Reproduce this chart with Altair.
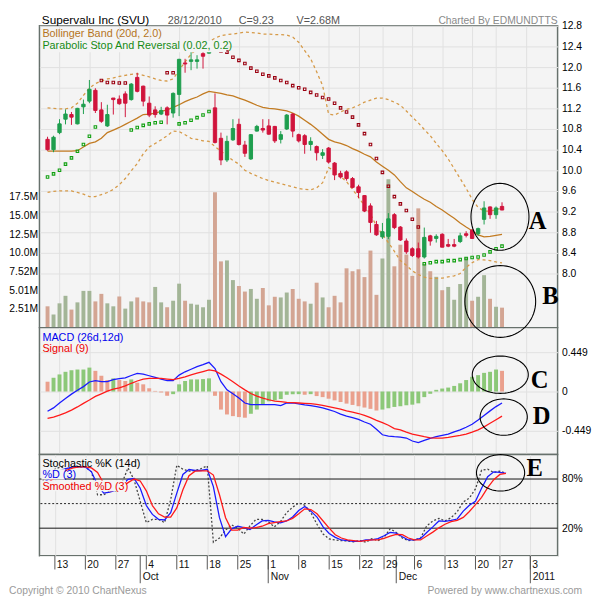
import math
import altair as alt
import pandas as pd

FONT = "Liberation Sans"
BG = "#f4f4f4"
GRID = "#e0e0e0"
BORDER = "#67716c"

# ---------------- data ----------------
open_ = [10.60, 10.40, 10.73, 10.99, 11.08, 10.90, 11.23, 11.34, 11.55, 11.17,
         10.86, 11.40, 11.38, 11.48, 11.37, 11.80, 11.63, 11.30, 11.17, 11.09,
         11.21, 11.11, 11.47, 12.08, 12.11, 12.11, 12.26, 12.27, 11.21, 10.62,
         10.20, 10.59, 10.89, 10.49, 10.22, 10.76, 10.81, 10.86, 10.85, 10.60,
         10.80, 11.09, 10.69, 10.67, 10.50, 10.46, 10.29, 10.43, 10.14, 9.94,
         9.97, 9.84, 9.68, 9.51, 9.31, 8.95, 8.71, 8.72, 9.14, 8.90,
         8.63, 8.48, 8.48, 8.32, 8.73, 8.68, 8.76, 8.56, 8.56, 8.62,
         8.77, 8.84, 8.77, 9.05, 9.29, 9.14, 9.30]
high_ = [10.65, 10.67, 10.99, 11.18, 11.13, 11.21, 11.37, 11.75, 11.59, 11.32,
         11.27, 11.40, 11.45, 11.53, 11.69, 11.89, 11.64, 11.43, 11.24, 11.23,
         11.24, 11.51, 12.16, 12.16, 12.30, 12.23, 12.29, 12.32, 11.49, 10.73,
         10.67, 10.99, 11.00, 10.57, 10.70, 10.88, 10.99, 10.99, 10.86, 10.76,
         11.09, 11.11, 10.71, 10.70, 10.64, 10.48, 10.41, 10.45, 10.16, 9.99,
         10.00, 9.87, 9.72, 9.52, 9.36, 9.02, 8.98, 9.17, 9.17, 8.92,
         8.68, 8.51, 8.60, 8.89, 8.75, 8.76, 8.78, 8.67, 8.67, 8.79,
         8.82, 8.86, 8.89, 9.40, 9.30, 9.30, 9.38]
low_ = [10.38, 10.35, 10.70, 10.89, 10.88, 10.89, 11.09, 11.30, 11.11, 10.92,
        10.84, 11.08, 11.27, 11.03, 11.35, 11.51, 11.24, 11.03, 11.02, 11.07,
        10.89, 11.02, 11.05, 11.89, 11.94, 11.97, 11.97, 12.26, 10.52, 10.10,
        10.16, 10.57, 10.48, 10.26, 10.20, 10.75, 10.73, 10.69, 10.53, 10.52,
        10.78, 10.64, 10.54, 10.32, 10.38, 10.19, 10.22, 10.13, 9.81, 9.84,
        9.80, 9.65, 9.46, 9.19, 8.79, 8.73, 8.67, 8.67, 8.86, 8.63,
        8.38, 8.32, 8.29, 8.29, 8.54, 8.60, 8.51, 8.51, 8.51, 8.59,
        8.70, 8.67, 8.73, 8.95, 9.06, 9.06, 9.23]
close_ = [10.40, 10.64, 10.90, 11.09, 11.03, 11.20, 11.28, 11.57, 11.16, 10.95,
          11.08, 11.37, 11.29, 11.30, 11.67, 11.53, 11.34, 11.07, 11.08, 11.16,
          11.07, 11.49, 12.15, 12.06, 12.14, 12.14, 12.21, 12.31, 10.54, 10.20,
          10.56, 10.81, 10.50, 10.33, 10.69, 10.85, 10.78, 10.70, 10.57, 10.69,
          11.07, 10.76, 10.57, 10.50, 10.56, 10.34, 10.34, 10.16, 9.91, 9.87,
          9.84, 9.67, 9.57, 9.21, 8.99, 8.75, 8.81, 9.06, 8.89, 8.65,
          8.42, 8.35, 8.32, 8.70, 8.63, 8.72, 8.51, 8.53, 8.53, 8.73,
          8.74, 8.68, 8.87, 9.27, 9.14, 9.27, 9.23]
volume_m = [2.86, 1.76, 3.26, 4.27, 2.42, 3.39, 4.93, 4.93, 3.52, 4.53,
            3.26, 2.86, 4.18, 2.55, 3.52, 4.05, 3.52, 3.39, 5.46, 3.39,
            2.73, 3.61, 5.90, 3.61, 3.21, 3.08, 2.73, 3.74, 18.17, 8.89,
            9.02, 6.38, 5.59, 4.84, 5.19, 3.87, 5.32, 2.99, 4.14, 4.05,
            4.71, 5.19, 3.87, 3.52, 3.21, 6.03, 4.05, 2.73, 4.27, 3.39,
            7.96, 7.57, 7.83, 6.78, 10.34, 4.40, 9.28, 19.93, 8.23, 11.13,
            9.81, 6.95, 16.01, 8.58, 7.57, 6.82, 5.02, 5.46, 3.74, 5.85,
            9.46, 3.61, 4.14, 7.04, 3.87, 2.80, 2.68]
sar = [9.87, 9.93, 10.00, 10.12, 10.24, 10.37, 10.50, 10.66, 10.84,
       11.74, 11.70, 11.70, 11.69, 11.69,
       10.78, 10.83, 10.87, 10.90, 10.92, 10.93,
       11.89, 11.89,
       10.90, 10.92, 10.97, 11.02, 11.07, 11.14,
       12.34, 12.31, 12.29, 12.19, 12.13, 12.07, 11.98, 11.92, 11.86, 11.83,
       11.79, 11.74, 11.70, 11.64, 11.60,
       11.57, 11.51, 11.46, 11.41, 11.38, 11.30, 11.21, 11.13, 11.03, 10.88,
       10.71, 10.50, 10.23, 9.96, 9.69, 9.49, 9.35, 9.22, 9.05, 8.90,
       8.19, 8.21, 8.23, 8.23, 8.25, 8.25, 8.27, 8.29, 8.31, 8.32, 8.36,
       8.42, 8.48, 8.53]
bb_upper = [11.21, 11.20, 11.19, 11.19, 11.21, 11.30, 11.45, 11.59, 11.68, 11.73,
            11.77, 11.79, 11.82, 11.84, 11.86, 11.87, 11.84, 11.81, 11.77, 11.74,
            11.73, 11.77, 11.94, 12.10, 12.25, 12.35, 12.43, 12.49, 12.56, 12.61,
            12.63, 12.64, 12.66, 12.68, 12.67, 12.66, 12.64, 12.64, 12.63, 12.63,
            12.62, 12.58, 12.48, 12.32, 12.16, 11.91, 11.64, 11.09, 11.07, 11.13,
            11.18, 11.21, 11.26, 11.32, 11.36, 11.40, 11.40, 11.37, 11.32, 11.26,
            11.15, 11.03, 10.92, 10.79, 10.67, 10.52, 10.38, 10.22, 10.03, 9.84,
            9.65, 9.44, 9.28, 9.21, 9.21, 9.24, 9.27]
bb_middle = [10.37, 10.37, 10.37, 10.37, 10.37, 10.38, 10.45, 10.52, 10.55, 10.62,
             10.73, 10.78, 10.83, 10.89, 10.95, 11.01, 11.08, 11.09, 11.11, 11.14,
             11.17, 11.22, 11.27, 11.33, 11.38, 11.42, 11.48, 11.53, 11.51, 11.49,
             11.46, 11.44, 11.40, 11.36, 11.31, 11.26, 11.22, 11.20, 11.19, 11.17,
             11.15, 11.11, 11.05, 10.97, 10.89, 10.80, 10.70, 10.60, 10.55, 10.52,
             10.48, 10.42, 10.37, 10.31, 10.26, 10.16, 10.08, 10.00, 9.91, 9.78,
             9.66, 9.59, 9.51, 9.44, 9.38, 9.30, 9.23, 9.15, 9.07, 8.98,
             8.90, 8.83, 8.75, 8.71, 8.72, 8.74, 8.76]
bb_lower = [9.57, 9.59, 9.60, 9.60, 9.60, 9.57, 9.54, 9.49, 9.49, 9.53,
            9.57, 9.63, 9.72, 9.84, 9.99, 10.13, 10.32, 10.45, 10.52, 10.59,
            10.67, 10.76, 10.75, 10.69, 10.62, 10.60, 10.57, 10.56, 10.46, 10.37,
            10.28, 10.19, 10.12, 10.00, 9.94, 9.89, 9.84, 9.80, 9.77, 9.74,
            9.71, 9.68, 9.65, 9.63, 9.62, 9.66, 9.76, 10.05, 10.00, 9.88,
            9.78, 9.63, 9.48, 9.31, 9.15, 8.92, 8.75, 8.60, 8.43, 8.25,
            8.16, 8.05, 7.98, 7.93, 7.905, 7.905, 7.91, 7.935, 7.955, 8.00,
            8.12, 8.21, 8.27, 8.265, 8.25, 8.225, 8.205]
macd = [-0.225, -0.187, -0.131, -0.079, -0.030, 0.015, 0.056, 0.109, 0.124, 0.112,
        0.112, 0.135, 0.146, 0.157, 0.183, 0.206, 0.198, 0.180, 0.161, 0.142,
        0.124, 0.124, 0.187, 0.225, 0.254, 0.284, 0.307, 0.333, 0.262, 0.112,
        0.019, -0.026, -0.075, -0.131, -0.150, -0.150, -0.150, -0.150, -0.150, -0.161,
        -0.131, -0.131, -0.142, -0.153, -0.161, -0.172, -0.187, -0.206, -0.228, -0.258,
        -0.281, -0.299, -0.318, -0.348, -0.374, -0.430, -0.494, -0.509, -0.516, -0.520,
        -0.531, -0.565, -0.584, -0.558, -0.535, -0.516, -0.501, -0.486, -0.460, -0.438,
        -0.408, -0.374, -0.326, -0.273, -0.221, -0.172, -0.131]
signal = [-0.307, -0.292, -0.269, -0.243, -0.213, -0.176, -0.135, -0.097, -0.056, -0.026,
          0.004, 0.026, 0.041, 0.064, 0.094, 0.120, 0.142, 0.150, 0.150, 0.150,
          0.142, 0.135, 0.150, 0.168, 0.191, 0.210, 0.228, 0.247, 0.236, 0.198,
          0.157, 0.112, 0.064, 0.019, -0.023, -0.052, -0.075, -0.094, -0.109, -0.116,
          -0.124, -0.127, -0.131, -0.135, -0.138, -0.146, -0.157, -0.172, -0.187, -0.202,
          -0.221, -0.236, -0.251, -0.273, -0.299, -0.329, -0.356, -0.385, -0.423, -0.438,
          -0.464, -0.486, -0.501, -0.516, -0.528, -0.531, -0.531, -0.524, -0.513, -0.501,
          -0.486, -0.464, -0.438, -0.404, -0.363, -0.322, -0.281]
hist = [0.112, 0.157, 0.195, 0.225, 0.243, 0.251, 0.251, 0.273, 0.236, 0.180,
        0.131, 0.150, 0.131, 0.120, 0.138, 0.101, 0.082, 0.037, 0.007, -0.011,
        -0.049, -0.030, 0.082, 0.120, 0.138, 0.138, 0.142, 0.150, -0.049, -0.206,
        -0.262, -0.281, -0.292, -0.299, -0.254, -0.206, -0.150, -0.112, -0.101, -0.086,
        -0.037, -0.030, -0.030, -0.037, -0.030, -0.052, -0.064, -0.082, -0.101, -0.120,
        -0.138, -0.153, -0.168, -0.183, -0.198, -0.217, -0.206, -0.191, -0.176, -0.168,
        -0.157, -0.150, -0.135, -0.064, -0.026, 0.019, 0.034, 0.045, 0.064, 0.094,
        0.131, 0.168, 0.187, 0.213, 0.225, 0.251, 0.236]
stoch_k = [78, 85, 92, 95, 92, 94.8, 94.8, 94.8, 88.8, 60.8,
           60.8, 64.8, 65.6, 74.8, 93.6, 78.8, 52.8, 26.8, 30.8, 30.8,
           26.8, 54.8, 96.8, 92, 89.6, 90.4, 92.8, 96, 2.8, 8,
           17.6, 24, 20, 12.8, 22.8, 30.8, 30.8, 28, 21.6, 28,
           38.8, 45.6, 50.8, 48, 38.8, 24.8, 12.8, 6.8, 5.6, 4.8,
           4.4, 3.2, 4.8, 2.8, 7.2, 4.8, 8.8, 19.2, 14.8, 8,
           4.8, 5.6, 8, 22.8, 28.8, 32, 28.8, 32.8, 40, 52,
           56.8, 68, 90.8, 92, 88, 89.6, 87.2]
stoch_d = [74.8, 80, 86, 91, 93, 94.8, 94.8, 94.8, 88.8, 72.8,
           62.8, 64, 66.4, 72.8, 79.6, 80.8, 68.8, 47.6, 36.8, 30.8,
           30, 38.8, 62.8, 85.6, 91.6, 90.4, 90.4, 92, 70.8, 32.8,
           9.6, 19.2, 22.4, 20.8, 18.4, 24, 28.8, 29.6, 27.6, 26.4,
           28.8, 33.6, 41.6, 46.4, 40.8, 33.6, 21.6, 13.6, 8.8, 5.6,
           4.8, 4, 4, 5.6, 5.6, 7.2, 10.8, 14.8, 14, 9.6,
           5.6, 5.6, 7.6, 14.8, 21.6, 28.8, 28.4, 29.6, 31.2, 40.8,
           48, 52.8, 68.8, 82.8, 88.8, 88, 86.8]
stoch_sd = [70.8, 76, 82, 87, 91, 93.6, 94.8, 94.8, 93.6, 88,
            74.8, 65.6, 66.4, 70.4, 75.6, 80, 77.6, 65.6, 47.6, 37.6,
            33.6, 33.6, 44.8, 66.8, 84, 89.6, 90, 90, 84.8, 60.8,
            32.8, 17.6, 17.6, 20.8, 20, 20.8, 22.4, 25.6, 26.8, 28,
            28.8, 32, 37.6, 43.6, 42.8, 37.6, 28.8, 20, 12, 8,
            5.6, 4.8, 4, 4.8, 5.6, 5.6, 7.6, 10.4, 12.4, 12,
            8, 5.6, 5.6, 10.4, 15.2, 20.4, 24.8, 28, 29.6, 33.2,
            40.4, 48.8, 57.6, 69.6, 79.2, 85.6, 86.8]

week_pos = [2, 7, 12, 17, 22, 27, 32, 37, 42, 47, 52, 56, 61, 66, 71, 75, 80]
week_lbl = ["13", "20", "27", "4", "11", "18", "25", "1", "8", "15", "22", "29",
            "6", "13", "20", "27", "3"]
month_pos = [16, 37, 58, 80]
month_lbl = ["Oct", "Nov", "Dec", "2011"]
price_ticks = [8.0, 8.4, 8.8, 9.2, 9.6, 10.0, 10.4, 10.8, 11.2, 11.6, 12.0, 12.4, 12.8]
vol_ticks = [2.5075 * k for k in range(1, 8)]
vol_tick_lbl = ["2.51M", "5.01M", "7.52M", "10.0M", "12.5M", "15.0M", "17.5M"]
macd_ticks = [-0.449, 0.0, 0.449]
stoch_ticks = [20, 80]

# ---------------- table ----------------
n = len(close_)
cdir = ["c_up" if c >= o else "c_dn" for o, c in zip(open_, close_)]
vdir = ["v_dn"] + ["v_up" if close_[k] >= close_[k - 1] else "v_dn" for k in range(1, n)]
hdir = ["h_dn"] + ["h_up" if hist[k] >= hist[k - 1] else "h_dn" for k in range(1, n)]
sdir = ["s_up" if s < c else "s_dn" for s, c in zip(sar, close_)]
df = pd.DataFrame(dict(i=list(range(n)), open=open_, high=high_, low=low_, close=close_,
                       vol=volume_m, sar=sar, bbu=bb_upper, bbm=bb_middle, bbl=bb_lower,
                       macd=macd, signal=signal, hist=hist, k=stoch_k, d=stoch_d,
                       sd=stoch_sd, cdir=cdir, vdir=vdir, hdir=hdir, sdir=sdir))

CS = alt.Scale(domain=["c_up", "c_dn", "v_up", "v_dn", "s_up", "s_dn", "h_up", "h_dn"],
               range=["#1e9e4e", "#d0143c", "#a3b597", "#d3a593", "#10a010", "#9a0010",
                      "#8cc878", "#eaa08d"])

W = 527
xs = alt.Scale(domain=[-0.53, 84.47], nice=False, zero=False)
xax = alt.Axis(values=week_pos, grid=True, gridColor=GRID, gridWidth=1, labels=False,
               ticks=False, domain=False, title=None)


def X():
    return alt.X("i:Q", scale=xs, axis=xax)


def txt(s, x, y, color="#000", size=11, align="left", baseline="alphabetic",
        font=FONT, weight="normal"):
    return alt.Chart(pd.DataFrame({"t": [s]})).mark_text(
        align=align, baseline=baseline, font=font, fontSize=size, color=color,
        fontWeight=weight).encode(x=alt.value(x), y=alt.value(y), text="t:N")


def box(x1, x2, y1, y2, color=BG):
    return alt.Chart(pd.DataFrame({"a": [0]})).mark_rect(color=color).encode(
        x=alt.value(x1), x2=alt.value(x2), y=alt.value(y1), y2=alt.value(y2))


def ellipse(cx, cy, w, h):
    m = max(w, h) / 2.0
    pts = []
    for k in range(72):
        t = 2 * math.pi * k / 72
        pts.append(f"{(w / 2 / m) * math.cos(t):.4f},{(h / 2 / m) * math.sin(t):.4f}")
    path = "M" + " L".join(pts) + " Z"
    return alt.Chart(pd.DataFrame({"a": [0]})).mark_point(
        shape=path, size=(2 * m) ** 2, filled=False, color="#000", strokeWidth=1.1,
        opacity=1).encode(x=alt.value(cx), y=alt.value(cy))


base = alt.Chart(df)

# ---------------- price panel ----------------
ps = alt.Scale(domain=[6.952, 12.8], nice=False, zero=False)
pax = alt.Axis(orient="right", values=price_ticks, format=".1f", grid=True, gridColor=GRID,
               ticks=False, domain=False, labelPadding=4, labelFont=FONT, labelFontSize=10.5,
               labelColor="#000", labelFlush=False, labelOverlap=False, labelBound=False,
               title=None)
vs = alt.Scale(domain=[0, 40.52], nice=False, zero=False)
vax = alt.Axis(orient="left", values=vol_ticks, grid=False, ticks=False, domain=False,
               labelPadding=2, labelFont=FONT, labelFontSize=10.5, labelColor="#000",
               labelFlush=False, labelOverlap=False, labelBound=False, title=None,
               labelExpr="['','2.51M','5.01M','7.52M','10.0M','12.5M','15.0M','17.5M'][round(datum.value/2.5075)]")

vol_bars = base.mark_bar(size=4).encode(
    x=X(), y=alt.Y("vol:Q", scale=vs, axis=vax),
    color=alt.Color("vdir:N", scale=CS, legend=None))
bbu = base.mark_line(color="#d69a48", strokeWidth=1.3, strokeDash=[3, 3]).encode(
    x=X(), y=alt.Y("bbu:Q", scale=ps, axis=pax))
bbm = base.mark_line(color="#c27b22", strokeWidth=1.3).encode(
    x=X(), y=alt.Y("bbm:Q", scale=ps, axis=pax))
bbl = base.mark_line(color="#d69a48", strokeWidth=1.3, strokeDash=[3, 3]).encode(
    x=X(), y=alt.Y("bbl:Q", scale=ps, axis=pax))
sarp = base.mark_point(shape="square", size=6.5, filled=False, strokeWidth=1.1, opacity=1).encode(
    x=X(), y=alt.Y("sar:Q", scale=ps, axis=pax),
    color=alt.Color("sdir:N", scale=CS, legend=None))
wick = base.mark_rule(strokeWidth=1).encode(
    x=X(), y=alt.Y("low:Q", scale=ps, axis=pax), y2="high:Q",
    color=alt.Color("cdir:N", scale=CS, legend=None))
body = base.mark_bar(size=3.4, strokeWidth=1).encode(
    x=X(), y=alt.Y("open:Q", scale=ps, axis=pax), y2="close:Q",
    color=alt.Color("cdir:N", scale=CS, legend=None),
    stroke=alt.Stroke("cdir:N", scale=CS, legend=None))

price_inner = alt.layer(
    bbu, bbm, bbl, sarp, wick, body,
    box(2, 190, 15.5, 27),
    txt("Bollinger Band (20d, 2.0)", 3, 11.8, "#b4741e"),
    txt("Parabolic Stop And Reversal (0.02, 0.2)", 3, 23.3, "#158a15"),
    txt("Supervalu Inc (SVU)", 2.4, -2, "#000", 12),
    txt("28/12/2010", 130.4, -2, "#555", 11),
    txt("C=9.23", 202.7, -2, "#555", 11),
    txt("V=2.68M", 261.4, -2, "#555", 11),
    txt("Charted By EDMUNDTTS", 527, -2, "#8a8a8a", 10.5, align="right"),
    ellipse(468.4, 194.3, 59, 68),
    txt("A", 506.7, 198.2, "#000", 25, align="center", baseline="middle",
        font="Liberation Serif", weight="bold"),
    txt("B", 519.7, 275.2, "#000", 25, align="center", baseline="middle",
        font="Liberation Serif", weight="bold"),
)
price = alt.layer(vol_bars, price_inner).resolve_scale(y="independent").properties(
    width=W, height=307, view=alt.ViewBackground(fill=BG, stroke=BORDER, strokeWidth=1.5))

# ---------------- MACD panel ----------------
ms = alt.Scale(domain=[-0.7184, 0.7296], nice=False, zero=False)
max_ = alt.Axis(orient="right", values=macd_ticks, grid=True, gridColor=GRID, ticks=False,
                domain=False, labelPadding=4, labelFont=FONT, labelFontSize=10.5,
                labelColor="#000", labelFlush=False, labelOverlap=False, labelBound=False,
                title=None,
                labelExpr="datum.value > 0.1 ? '0.449' : (datum.value < -0.1 ? '-0.449' : '0')")
hbar = base.mark_bar(size=4).encode(
    x=X(), y=alt.Y("hist:Q", scale=ms, axis=max_), y2=alt.datum(0),
    color=alt.Color("hdir:N", scale=CS, legend=None))
mline = base.mark_line(color="#1a1aff", strokeWidth=1.3).encode(
    x=X(), y=alt.Y("macd:Q", scale=ms, axis=max_))
sline = base.mark_line(color="#ff1a1a", strokeWidth=1.3).encode(
    x=X(), y=alt.Y("signal:Q", scale=ms, axis=max_))
macd_panel = alt.layer(
    hbar, mline, sline,
    txt("MACD (26d,12d)", 3, 13.4, "#0000ee"),
    txt("Signal (9)", 3, 24.6, "#ee0000"),
    ellipse(468.7, -26.6, 72, 73),
    ellipse(468.7, 47.9, 57, 38),
    ellipse(472.2, 91.0, 48, 37),
    txt("C", 508.7, 53.7, "#000", 25, align="center", baseline="middle",
        font="Liberation Serif", weight="bold"),
    txt("D", 510.7, 89.7, "#000", 25, align="center", baseline="middle",
        font="Liberation Serif", weight="bold"),
).properties(width=W, height=129,
             view=alt.ViewBackground(fill=BG, stroke=BORDER, strokeWidth=1.5))

# ---------------- Stochastic panel ----------------
ss = alt.Scale(domain=[-13.6, 110], nice=False, zero=False)
sax = alt.Axis(orient="right", values=stoch_ticks, grid=False, ticks=False, domain=False,
               labelPadding=4, labelFont=FONT, labelFontSize=10.5, labelColor="#000",
               labelFlush=False, labelOverlap=False, labelBound=False, title=None,
               labelExpr="datum.value + '%'")
lvl = alt.Chart(pd.DataFrame({"v": stoch_ticks})).mark_rule(color="#111", strokeWidth=1).encode(
    y=alt.Y("v:Q", scale=ss, axis=sax))
mid = alt.Chart(pd.DataFrame({"v": [50]})).mark_rule(color="#222", strokeWidth=1,
                                                     strokeDash=[2, 2]).encode(
    y=alt.Y("v:Q", scale=ss, axis=sax))
kline = base.mark_line(color="#444", strokeWidth=1.3, strokeDash=[2, 2]).encode(
    x=X(), y=alt.Y("k:Q", scale=ss, axis=sax))
dline = base.mark_line(color="#1a1aff", strokeWidth=1.3).encode(
    x=X(), y=alt.Y("d:Q", scale=ss, axis=sax))
sdline = base.mark_line(color="#ff1a1a", strokeWidth=1.3).encode(
    x=X(), y=alt.Y("sd:Q", scale=ss, axis=sax))
stoch_panel = alt.layer(
    lvl, mid, kline, dline, sdline,
    box(2, 98, 3, 11.5), box(2, 26, 15, 25.5), box(2, 88, 26.5, 37.5),
    txt("Stochastic %K (14d)", 3, 12.7, "#000"),
    txt("%D (3)", 3, 24, "#0000ee"),
    txt("Smoothed %D (3)", 3, 35.7, "#ee0000"),
    ellipse(469.0, 18.7, 49, 37),
    txt("E", 503.7, 13.7, "#000", 25, align="center", baseline="middle",
        font="Liberation Serif", weight="bold"),
).properties(width=W, height=103,
             view=alt.ViewBackground(fill=BG, stroke=BORDER, strokeWidth=1.5))

# ---------------- date axis panel ----------------
XA = alt.X("i:Q", scale=xs, axis=None)
wk = alt.Chart(pd.DataFrame({"i": week_pos, "t": week_lbl}))
mo = alt.Chart(pd.DataFrame({"i": month_pos, "t": month_lbl}))
axis_panel = alt.layer(
    wk.mark_rule(color="#555", strokeWidth=1).encode(x=XA, y=alt.value(0), y2=alt.value(14)),
    mo.mark_rule(color="#555", strokeWidth=1).encode(x=XA, y=alt.value(0), y2=alt.value(28)),
    wk.mark_text(align="left", baseline="middle", dx=2, font=FONT, fontSize=10.5,
                 color="#111").encode(x=XA, y=alt.value(9.7), text="t:N"),
    mo.mark_text(align="left", baseline="middle", dx=2.5, font=FONT, fontSize=10.5,
                 color="#111").encode(x=XA, y=alt.value(22.2), text="t:N"),
    txt("Copyright \u00a9 2010 ChartNexus", -31, 38.5, "#9a9a9a", 10.5),
    txt("Powered by www.chartnexus.com", 552, 38.5, "#9a9a9a", 10.5, align="right"),
).properties(width=W, height=41,
             view=alt.ViewBackground(fill="white", stroke="transparent"))

chart = alt.vconcat(price, macd_panel, stoch_panel, axis_panel, spacing=0).properties(
    bounds="flush", padding=0)

chart.save("out.html", embed_options={"renderer": "svg", "actions": False})
